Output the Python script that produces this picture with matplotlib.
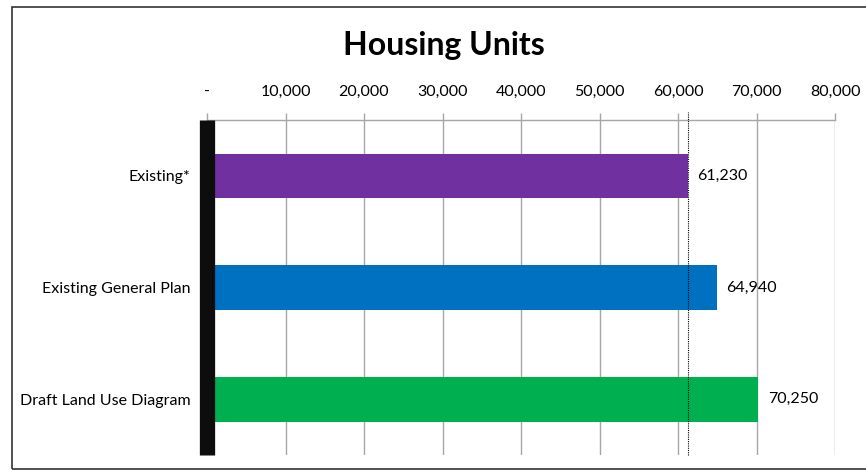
import matplotlib
matplotlib.use("Agg")
import matplotlib.pyplot as plt
from matplotlib.patches import Rectangle
from matplotlib.ticker import FuncFormatter

plt.rcParams['font.family'] = ['Lato', 'DejaVu Sans']

categories = ["Existing*", "Existing General Plan", "Draft Land Use Diagram"]
values = [61230, 64940, 70250]
colors = ["#7030A0", "#0070C0", "#00B050"]
ticks = [0, 10000, 20000, 30000, 40000, 50000, 60000, 70000, 80000]

fig = plt.figure(figsize=(8.66, 4.70), dpi=100)
ax = fig.add_axes([207 / 866, 1 - 455 / 470, (835 - 207) / 866, (455 - 120) / 470])

ypos = list(range(len(categories)))
ax.barh(ypos, values, height=0.4, color=colors, zorder=2)
for y, v in zip(ypos, values):
    ax.text(v + 1200, y, f"{v:,}", va="center", ha="left", fontsize=11.5)

ax.set_xlim(0, 80000)
ax.set_ylim(2.5, -0.5)
ax.set_yticks(ypos)
ax.set_yticklabels(categories, fontsize=11.5)
ax.tick_params(axis="y", length=0, pad=12)

ax.xaxis.tick_top()
ax.set_xticks(ticks)
ax.xaxis.set_major_formatter(FuncFormatter(lambda x, p: "-" if x == 0 else f"{int(x):,}"))
ax.tick_params(axis="x", direction="out", length=5, width=1, color="#a6a6a6",
               labelsize=11.5, pad=10)
ax.grid(axis="x", color="#a6a6a6", linewidth=1, zorder=0)

for s in ["right", "bottom"]:
    ax.spines[s].set_visible(False)
ax.spines["top"].set_color("#a6a6a6")
ax.spines["top"].set_linewidth(1)
ax.spines["left"].set_color("#0d0d0d")
ax.spines["left"].set_linewidth(11)
ax.spines["left"].set_capstyle("butt")
ax.spines["left"].set_zorder(4)

# dotted reference line at existing value
ax.axvline(values[0], ymin=0, ymax=1.025, color="black", linestyle=(0, (1, 1)),
           linewidth=0.8, zorder=3, clip_on=False)

fig.text(444 / 866, 1 - 45 / 470, "Housing Units", fontsize=23, fontweight="bold",
         ha="center", va="center")

fig.patches.append(Rectangle((12 / 866, 1 - 469 / 470), 1.0, (469 - 7) / 470,
                             transform=fig.transFigure, fill=False,
                             edgecolor="#333333", linewidth=1.2))

fig.savefig("out.png", dpi=100)
